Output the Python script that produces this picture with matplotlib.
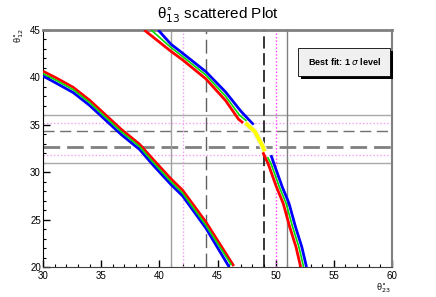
import matplotlib
matplotlib.use('Agg')
import matplotlib.pyplot as plt
from matplotlib.patches import Rectangle

plt.rcParams['font.family'] = ['Liberation Sans', 'DejaVu Sans']

# Band 1 (lower-left branch)
b1_green_x = [30.0, 31.2, 32.6, 34.0, 35.2, 36.7, 38.3, 39.5, 41.0, 42.0, 44.0, 46.2]
b1_green_y = [40.4, 39.65, 38.7, 37.35, 36.0, 34.3, 32.7, 31.0, 29.0, 27.8, 24.4, 20.2]
b1_red_x = [30.0, 31.2, 32.6, 34.0, 35.2, 36.7, 38.3, 39.5, 41.0, 42.0, 44.0, 46.4]
b1_red_y = [40.65, 39.9, 38.95, 37.6, 36.25, 34.55, 32.95, 31.3, 29.3, 28.1, 24.75, 20.1]
b1_blue_x = [30.0, 31.2, 32.6, 34.0, 35.2, 36.7, 38.3, 39.5, 41.0, 42.0, 44.0, 46.0]
b1_blue_y = [40.15, 39.35, 38.4, 37.05, 35.7, 34.0, 32.4, 30.7, 28.7, 27.5, 24.1, 20.0]

# Band 2, upper part
b2_green_x = [39.3, 41.0, 42.0, 44.0, 45.7, 46.9, 47.5]
b2_green_y = [45.0, 43.15, 42.2, 40.25, 38.0, 36.0, 35.4]
b2_blue_x = [39.9, 41.0, 42.0, 44.0, 45.7, 47.0, 48.1]
b2_blue_y = [45.0, 43.5, 42.55, 40.6, 38.45, 36.45, 35.0]
b2_red_x = [38.7, 41.0, 42.0, 44.0, 45.7, 46.8, 47.2]
b2_red_y = [45.0, 42.75, 41.85, 39.85, 37.55, 35.6, 35.2]

# best fit (yellow) section
yel_x = [47.4, 48.2, 48.9, 49.05]
yel_y = [35.2, 34.3, 32.7, 32.2]

# Band 2, lower part
b3_green_x = [49.3, 49.6, 50.3, 50.9, 51.45, 52.0, 52.4]
b3_green_y = [31.6, 30.9, 28.5, 26.7, 24.25, 22.1, 20.0]
b3_blue_x = [49.6, 49.85, 50.55, 51.15, 51.7, 52.25, 52.65]
b3_blue_y = [31.8, 30.9, 28.5, 26.7, 24.25, 22.1, 20.0]
b3_red_x = [48.9, 49.35, 50.05, 50.65, 51.2, 51.75, 52.15]
b3_red_y = [32.1, 30.9, 28.5, 26.7, 24.25, 22.1, 20.0]

# reference lines
vlines = [41.0, 42.0, 44.0, 49.0, 50.0, 51.0]
hlines = [36.0, 35.15, 34.3, 32.7, 31.8, 31.0]

fig = plt.figure(figsize=(4.36, 2.97), dpi=100)
ax = fig.add_axes([43/436, 30/297, 349/436, 237/297])
ax.set_xlim(30, 60)
ax.set_ylim(20, 45)

# horizontal lines
ax.axhline(hlines[0], color='#a8a8a8', lw=1.0)
ax.axhline(hlines[1], color='#f0a0f0', lw=1.0, ls=(0, (1, 1.5)))
ax.axhline(hlines[2], color='#707070', lw=1.0, ls=(0, (8, 4)))
ax.axhline(hlines[3], color='#808080', lw=2.0, ls=(0, (6, 2.5)))
ax.axhline(hlines[4], color='#f0a0f0', lw=1.0, ls=(0, (1, 1.5)))
ax.axhline(hlines[5], color='#a8a8a8', lw=1.0)

# vertical lines
ax.axvline(vlines[0], color='#a0a0a0', lw=1.0)
ax.axvline(vlines[1], color='#f0a0f0', lw=1.0, ls=(0, (1, 1.5)))
ax.axvline(vlines[2], color='#606060', lw=1.0, ls=(0, (10, 4)))
ax.axvline(vlines[3], color='black', lw=1.1, ls=(0, (8, 3)))
ax.axvline(vlines[4], color='#ff40ff', lw=1.0, ls=(0, (1, 1.5)))
ax.axvline(vlines[5], color='#808080', lw=1.0)

# scatter bands
for xs, ys, c, w in [
    (b1_blue_x, b1_blue_y, '#0000ff', 2.0),
    (b1_red_x, b1_red_y, '#ff0000', 2.0),
    (b1_green_x, b1_green_y, '#00dd00', 1.2),
    (b2_blue_x, b2_blue_y, '#0000ff', 2.0),
    (b2_red_x, b2_red_y, '#ff0000', 2.0),
    (b2_green_x, b2_green_y, '#00dd00', 1.2),
    (b3_blue_x, b3_blue_y, '#0000ff', 2.0),
    (b3_red_x, b3_red_y, '#ff0000', 2.0),
    (b3_green_x, b3_green_y, '#00dd00', 1.2),
]:
    ax.plot(xs, ys, color=c, lw=w, solid_capstyle='butt', solid_joinstyle='round', zorder=3)

ax.plot(yel_x, yel_y, color='#eeeeee', lw=4.5, solid_capstyle='butt', zorder=3)
ax.plot(yel_x, yel_y, color='#ffff00', lw=2.8, solid_capstyle='butt', zorder=4)

# ticks
ax.set_xticks(range(30, 61, 5))
ax.set_yticks(range(20, 46, 5))
ax.set_xticks(range(30, 61, 1), minor=True)
ax.set_yticks(range(20, 46, 1), minor=True)
ax.tick_params(which='both', direction='in', top=False, right=False,
               labelsize=7, color='black')
ax.tick_params(which='major', length=5, width=1.0)
ax.tick_params(which='minor', length=2.5, width=0.8)
ax.tick_params(axis='y', pad=1.5)
ax.tick_params(axis='x', pad=3)

ax.spines['left'].set_color('black')
ax.spines['bottom'].set_color('#404040')
ax.spines['top'].set_color('#808080')
ax.spines['right'].set_color('#808080')
ax.spines['top'].set_linewidth(2.0)
ax.spines['right'].set_linewidth(1.5)

# title and axis labels
fig.text(0.5, 0.948, u'\u03b8$^{\\circ}_{13}$ scattered Plot', ha='center', va='center', fontsize=11)
fig.text(0.045, 0.88, u'\u03b8$^{\\circ}_{12}$', rotation=90, ha='center', va='center', fontsize=6.5)
fig.text(0.878, 0.03, u'\u03b8$^{\\circ}_{23}$', ha='center', va='center', fontsize=6.5)

# legend-like box with shadow
ax.add_patch(Rectangle((0.739, 0.794), 0.264, 0.118, transform=ax.transAxes,
                       facecolor='black', edgecolor='none', clip_on=False, zorder=5))
ax.add_patch(Rectangle((0.731, 0.806), 0.264, 0.118, transform=ax.transAxes,
                       facecolor='#f0f0f0', edgecolor='black', lw=0.6, clip_on=False, zorder=6))
ax.text(0.863, 0.865, r'Best fit: 1 $\sigma$ level', transform=ax.transAxes,
        ha='center', va='center', fontsize=6.5, fontweight='bold', zorder=7)

fig.savefig('out.png', dpi=100)
